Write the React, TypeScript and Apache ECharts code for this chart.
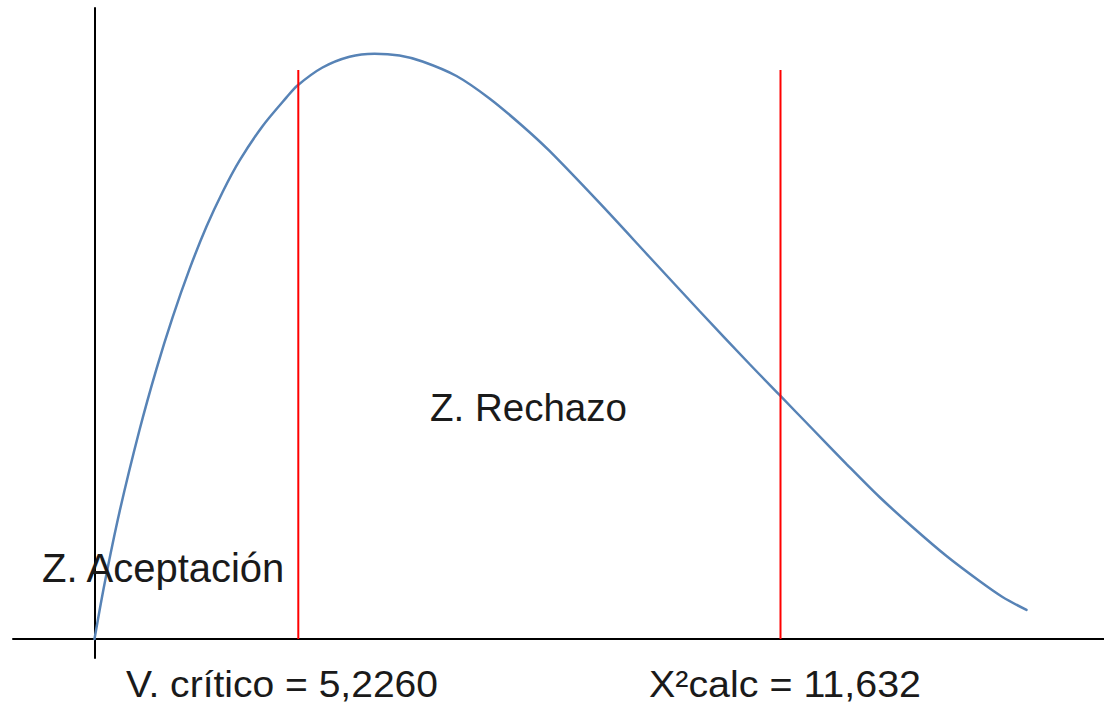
import React, { useEffect, useRef } from "react";
import * as echarts from "echarts";

// Curve points (arbitrary units)
const curveX = [0, 0.1, 0.25, 0.45, 0.62, 0.78, 0.95, 1.12, 1.28, 1.45, 1.68, 1.92, 2.03, 2.28, 2.55, 2.8, 3.05, 3.28, 3.62, 3.95, 4.28, 4.55, 5.05, 5.55, 6.05, 6.55, 6.85, 7.18, 7.52, 7.85, 8.18, 8.52, 8.85, 9.08, 9.32];
const curveY = [0, 8.72, 20.13, 33.12, 42.82, 50.94, 58.62, 65.36, 70.81, 75.8, 81.27, 85.83, 87.72, 90.57, 92.28, 92.76, 92.47, 91.52, 89.22, 85.66, 81.3, 77.34, 69.1, 60.54, 51.98, 43.58, 38.67, 33.28, 27.73, 22.5, 17.75, 13.15, 9.19, 6.66, 4.6];

const criticalX = 2.038;
const calcX = 6.86;
const redTop = 90.17;

const labelTexts = ["Z. Aceptación", "Z. Rechazo", "V. crítico = 5,2260", "X²calc = 11,632"];

// label layout in pixels
const labelPos = [
  { x: 42, y: 568, size: 40, sx: 1 },
  { x: 430, y: 407, size: 38.5, sx: 1 },
  { x: 126, y: 684, size: 37, sx: 1.055 },
  { x: 649, y: 684, size: 37, sx: 1.065 },
];

export default function App() {
  const ref = useRef<HTMLDivElement>(null);
  useEffect(() => {
    if (!ref.current) return;
    const chart = echarts.init(ref.current, undefined, { renderer: "svg" });
    const axisCommon = {
      type: "value" as const,
      axisLine: { show: true, onZero: true, lineStyle: { color: "#000", width: 2 } },
      axisTick: { show: false },
      axisLabel: { show: false },
      splitLine: { show: false },
    };
    chart.setOption({
      animation: false,
      backgroundColor: "#fff",
      grid: { left: 13, right: 0, top: 8, bottom: 47 },
      xAxis: { ...axisCommon, min: -0.815, max: 10.095 },
      yAxis: { ...axisCommon, min: -3.011, max: 100 },
      series: [
        {
          type: "line",
          data: curveX.map((x, i) => [x, curveY[i]]),
          smooth: 0.3,
          showSymbol: false,
          lineStyle: { color: "#5783b6", width: 2.5, cap: "round" },
          z: 3,
        },
        {
          type: "line",
          data: [[criticalX, 0], [criticalX, redTop]],
          showSymbol: false,
          lineStyle: { color: "#ff0000", width: 2 },
          z: 4,
        },
        {
          type: "line",
          data: [[calcX, 0], [calcX, redTop]],
          showSymbol: false,
          lineStyle: { color: "#ff0000", width: 2 },
          z: 4,
        },
      ],
      graphic: labelTexts.map((t, i) => ({
        type: "text",
        x: labelPos[i].x,
        y: labelPos[i].y,
        scaleX: labelPos[i].sx,
        z: 10,
        style: {
          text: t,
          fill: "#1a1a1a",
          font: `${labelPos[i].size}px "Liberation Sans", Arial, sans-serif`,
          textAlign: "left",
          textVerticalAlign: "middle",
        },
      })),
    });
    return () => chart.dispose();
  }, []);
  return (
    <div
      ref={ref}
      style={{ position: "fixed", left: 0, top: 0, width: 1104, height: 705 }}
    />
  );
}
